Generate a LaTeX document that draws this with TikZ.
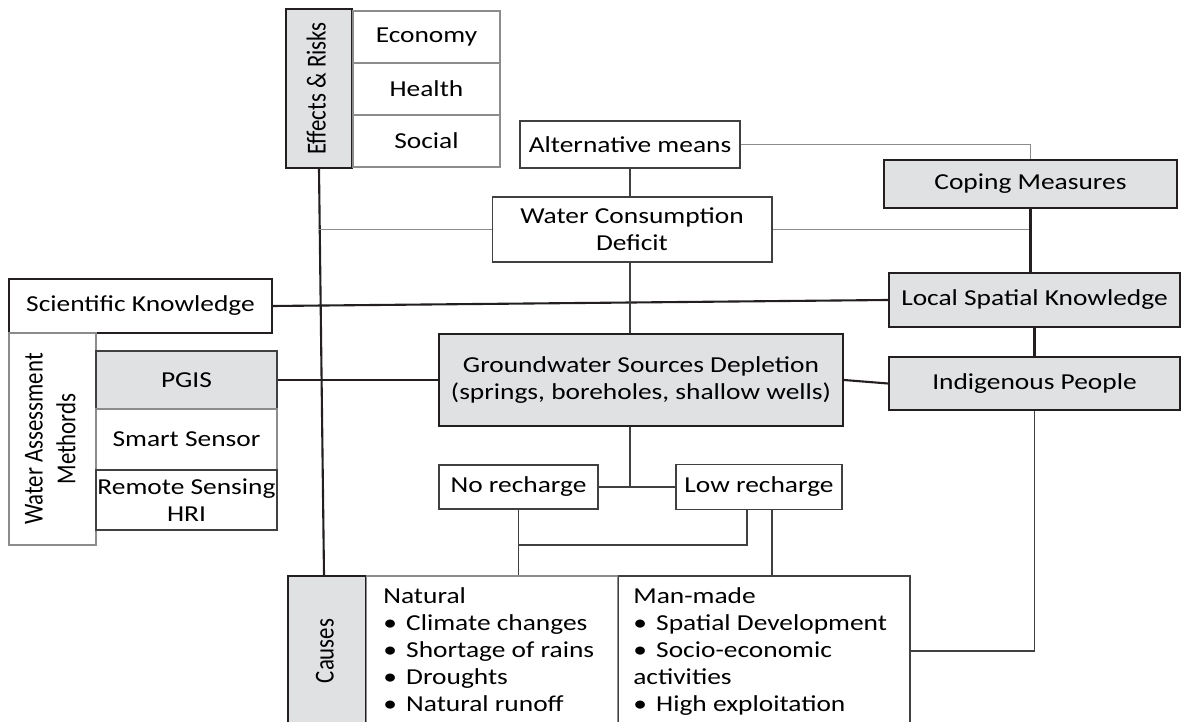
\documentclass[tikz,border=0pt]{standalone}
\usepackage{fontspec}
\usepackage{graphicx}
\setmainfont{Carlito}[FakeStretch=1.2]
\newfontfamily\rotfont{Carlito}[FakeStretch=0.8333]
\usepackage{tikz}
\definecolor{boxgrey}{RGB}{224,225,227}
\definecolor{edgedark}{RGB}{35,31,32}
\newcommand{\bul}{\makebox[13pt][l]{\textbullet}}
\newcommand{\rottext}[1]{\rotatebox{90}{\rotfont\fontsize{15.6pt}{18.5pt}\selectfont\begin{tabular}{@{}c@{}}#1\end{tabular}}}

\begin{document}
\begin{tikzpicture}[x=0.02cm, y=-0.02cm,
font=\fontsize{13pt}{15.4pt}\selectfont,
greynode/.style={rectangle, draw=edgedark, fill=boxgrey, line width=1.2pt, inner sep=0pt, align=center},
boldnode/.style={rectangle, draw=edgedark, line width=1.2pt, inner sep=0pt, align=center},
plainnode/.style={rectangle, draw=black!75, line width=0.6pt, inner sep=0pt, align=center},
faintnode/.style={rectangle, draw=black!45, line width=0.6pt, inner sep=0pt, align=center},
boldlink/.style={draw=edgedark, line width=1.2pt},
link/.style={draw=black!75, line width=0.6pt},
faintlink/.style={draw=black!45, line width=0.6pt},
]
\useasboundingbox (0,0) rectangle (1181,722);
%effects
\node[greynode, minimum width=1.32cm, minimum height=3.18cm] (effects) at (319,88.5) {\rottext{Effects \& Risks}};
\node[faintnode, minimum width=2.94cm, minimum height=1.04cm] (economy) at (426.5,37) {Economy};
\node[faintnode, minimum width=2.94cm, minimum height=1.04cm] (health) at (426.5,89) {Health};
\node[faintnode, minimum width=2.94cm, minimum height=1.04cm] (social) at (426.5,141) {Social};
%centre
\node[plainnode, minimum width=4.4cm, minimum height=0.94cm] (altmeans) at (630,144.5) {Alternative means};
\node[plainnode, minimum width=5.6cm, minimum height=1.3cm] (wcd) at (632,229.5) {Water Consumption\\Deficit};
\node[greynode, minimum width=8.08cm, minimum height=1.84cm] (gsd) at (641,380) {Groundwater Sources Depletion\\(springs, boreholes, shallow wells)};
\node[plainnode, minimum width=3.18cm, minimum height=0.88cm] (norech) at (518.5,487) {No recharge};
\node[plainnode, minimum width=3.32cm, minimum height=0.9cm] (lowrech) at (759,487) {Low recharge};
%right
\node[greynode, minimum width=5.86cm, minimum height=0.96cm] (coping) at (1030.5,184) {Coping Measures};
\node[greynode, minimum width=5.82cm, minimum height=1.08cm] (lsk) at (1034.5,300) {Local Spatial Knowledge};
\node[greynode, minimum width=5.82cm, minimum height=1.06cm] (indig) at (1034.5,383.5) {Indigenous People};
%left
\node[boldnode, minimum width=5.26cm, minimum height=1.08cm] (sci) at (140.5,306) {Scientific Knowledge};
\node[faintnode, minimum width=1.74cm, minimum height=4.24cm] (wam) at (52.5,439) {\rottext{Water Assessment\\Methords}};
\node[plainnode, fill=boxgrey, minimum width=3.62cm, minimum height=1.16cm] (pgis) at (186.5,380) {PGIS};
\node[faintnode, minimum width=3.62cm, minimum height=1.22cm] (smart) at (186.5,439.5) {Smart Sensor};
\node[plainnode, minimum width=3.62cm, minimum height=1.2cm] (remote) at (186.5,500) {Remote Sensing\\HRI};
%causes
\node[greynode, minimum width=1.56cm, minimum height=3.0cm] (causes) at (327,651) {\rottext{Causes}};
\node[faintnode, minimum width=5.04cm, minimum height=3.0cm] (natural) at (492,651) {};
\node[plainnode, minimum width=5.84cm, minimum height=3.0cm] (manmade) at (764,651) {};
\node[anchor=north west, inner sep=0pt, align=left] (natxt) at (383,587) {Natural\\\bul Climate changes\\\bul Shortage of rains\\\bul Droughts\\\bul Natural runoff};
\node[anchor=north west, inner sep=0pt, align=left] (mantxt) at (633,587) {Man-made\\\bul Spatial Development\\\bul Socio-economic\\activities\\\bul High exploitation};
%connections
\draw[boldlink] (effects.south) -- ([xshift=-0.06cm]causes.north);
\draw[faintlink] (wcd.west) -- (wcd.west -| effects.south);
\draw[link] (altmeans.south) -- (altmeans.south |- wcd.north);
\draw[faintlink] (altmeans.east) -| (coping.north);
\draw[faintlink] (wcd.east) -- (wcd.east -| coping.south);
\draw[boldlink] (coping.south) -- (coping.south |- lsk.north);
\draw[boldlink] (sci.east) -- (lsk.west);
\draw[boldlink] (lsk.south) -- (indig.north);
\draw[boldlink] (pgis.east) -- (gsd.west);
\draw[boldlink] (gsd.east) -- (indig.west);
\draw[link] (altmeans.south |- wcd.south) -- (altmeans.south |- gsd.north);
\draw[link] (altmeans.south |- gsd.south) -- (altmeans.south |- norech.east);
\draw[link] (norech.east) -- (lowrech.west);
\coordinate (nrjoin) at (518.5,545);
\draw[link] (norech.south) -- (norech.south |- natural.north);
\draw[link] ([xshift=-0.24cm]lowrech.south) |- (nrjoin);
\draw[link] ([xshift=0.26cm]lowrech.south) -- ([xshift=0.26cm]lowrech.south |- manmade.north);
\draw[link] (indig.south) |- (manmade.east);
\end{tikzpicture}
\end{document}
